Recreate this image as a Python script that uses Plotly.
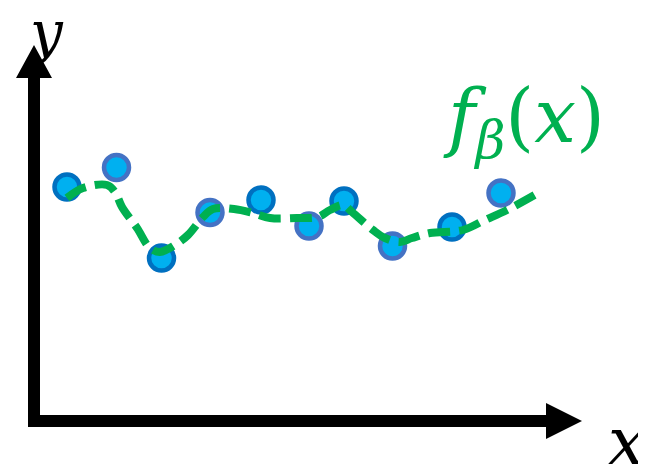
import plotly.graph_objects as go

# ---- data (abstract units; origin at the axes corner) ----
point_x = [0.66, 1.65, 2.55, 3.52, 4.54, 5.50, 6.20, 7.17, 8.36, 9.34]
point_y = [4.68, 5.07, 3.26, 4.17, 4.42, 3.90, 4.40, 3.50, 3.88, 4.56]
point_edge = ["#0070C0", "#4472C4", "#0070C0", "#4472C4", "#0070C0",
              "#4472C4", "#0070C0", "#4472C4", "#0070C0", "#4472C4"]

curve_x = [0.66, 0.98, 1.46, 1.62, 1.76, 2.06, 2.32, 2.52, 2.82, 3.08, 3.38,
           3.58, 4.00, 4.38, 4.72, 5.26, 5.68, 5.92, 6.18, 6.36, 6.78, 7.02,
           7.32, 7.56, 7.92, 8.58, 9.02, 9.46, 10.08]
curve_y = [4.46, 4.66, 4.72, 4.58, 4.28, 3.86, 3.46, 3.38, 3.52, 3.72, 4.08,
           4.24, 4.24, 4.16, 4.06, 4.06, 4.08, 4.22, 4.32, 4.18, 3.82, 3.66,
           3.58, 3.66, 3.76, 3.82, 4.02, 4.22, 4.56]

# ranges chosen so the page's 8px body margin is compensated
x_range = [-0.52, 12.40]
y_range = [-1.04, 8.26]

# axis arrows geometry (data units)
shaft = 0.12          # half thickness
x_end, x_tip, head = 10.24, 10.96, 0.36
y_end, y_tip = 6.86, 7.52

fig = go.Figure()

fig.add_trace(go.Scatter(
    x=point_x, y=point_y, mode="markers",
    marker=dict(size=25, color="#00B0F0",
                line=dict(color=point_edge, width=4.5)),
    hoverinfo="skip", showlegend=False))

fig.add_trace(go.Scatter(
    x=curve_x, y=curve_y, mode="lines",
    line=dict(color="#00B050", width=8, dash="22px,9px", shape="spline"),
    hoverinfo="skip", showlegend=False))

# x axis arrow
fig.add_shape(type="path", xref="x", yref="y", line=dict(width=0),
              fillcolor="black",
              path=(f"M {-shaft} {-shaft} L {x_end} {-shaft} L {x_end} {-head} "
                    f"L {x_tip} 0 L {x_end} {head} L {x_end} {shaft} "
                    f"L {-shaft} {shaft} Z"))
# y axis arrow
fig.add_shape(type="path", xref="x", yref="y", line=dict(width=0),
              fillcolor="black",
              path=(f"M {-shaft} {-shaft} L {shaft} {-shaft} L {shaft} {y_end} "
                    f"L {head} {y_end} L 0 {y_tip} L {-head} {y_end} "
                    f"L {-shaft} {y_end} Z"))

serif = "DejaVu Serif"
fig.add_annotation(x=0.22, y=7.78, text="<i>y</i>", showarrow=False,
                   font=dict(family=serif, size=58, color="black"))
fig.add_annotation(x=11.85, y=-0.40, text="<i>x</i>", showarrow=False,
                   font=dict(family=serif, size=66, color="black"))
fig.add_annotation(x=9.80, y=6.00, text="<i>f</i><sub><i>β</i></sub>(<i>x</i>)",
                   showarrow=False,
                   font=dict(family=serif, size=74, color="#00B050"))

fig.update_layout(
    width=646, height=465,
    margin=dict(l=0, r=0, t=0, b=0),
    paper_bgcolor="white", plot_bgcolor="white",
    xaxis=dict(range=x_range, visible=False, fixedrange=True),
    yaxis=dict(range=y_range, visible=False, fixedrange=True),
)

fig.write_html("out.html")
